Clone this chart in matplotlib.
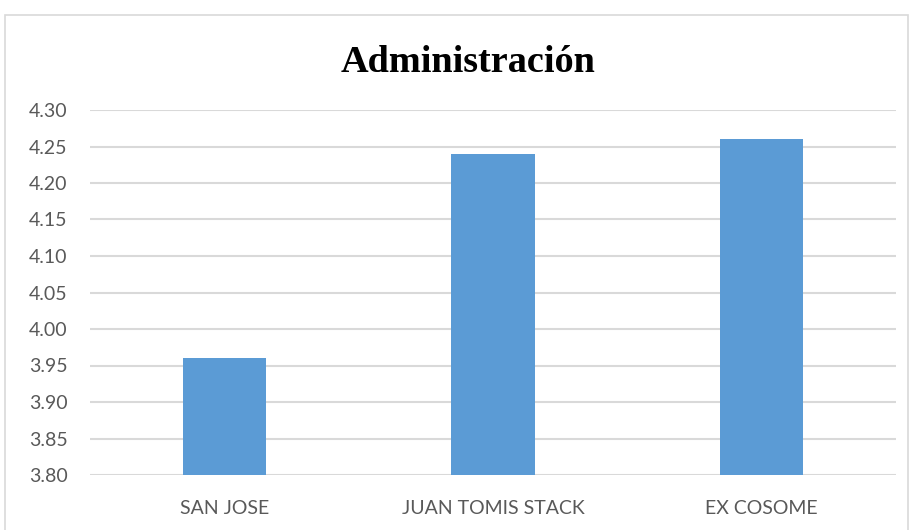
import matplotlib.pyplot as plt
import numpy as np
from matplotlib.patches import Rectangle

categorias = ['SAN JOSE', 'JUAN TOMIS STACK', 'EX COSOME']
valores = [3.96, 4.24, 4.26]
ticks_y = [3.80, 3.85, 3.90, 3.95, 4.00, 4.05, 4.10, 4.15, 4.20, 4.25, 4.30]

fig = plt.figure(figsize=(9.12, 5.30), dpi=100)
ax = fig.add_axes([90 / 912, 55 / 530, 806 / 912, 365 / 530])

x = np.arange(len(categorias))
ax.bar(x, valores, width=0.31, color='#5B9BD5', zorder=3)

ax.set_ylim(3.80, 4.30)
ax.set_xlim(-0.5, 2.5)
ax.set_yticks(ticks_y)
ax.set_yticklabels(['%.2f' % t for t in ticks_y])
ax.set_xticks(x)
ax.set_xticklabels(categorias)
ax.yaxis.grid(True, color='#D9D9D9', linewidth=1.5, zorder=0)
ax.tick_params(axis='both', length=0, labelsize=14, labelcolor='#595959',
               labelfontfamily='Lato')
ax.tick_params(axis='y', pad=16)
ax.tick_params(axis='x', pad=18)
for s in ax.spines.values():
    s.set_visible(False)

fig.text(468 / 912, 1 - 62 / 530, 'Administración', ha='center', va='center',
         fontsize=27.5, fontweight='bold', family='Liberation Serif')

# marco del grafico
fig.patches.append(Rectangle((5 / 912, -0.01), 903 / 912, 1 - 15 / 530 + 0.01,
                             transform=fig.transFigure, fill=False,
                             edgecolor='#D9D9D9', linewidth=1.2))

fig.savefig('out.png', dpi=100)
